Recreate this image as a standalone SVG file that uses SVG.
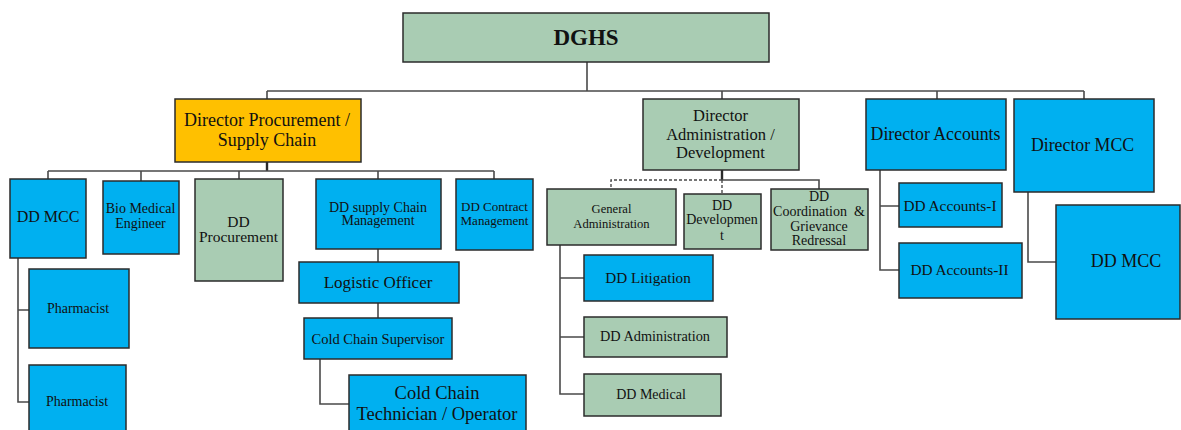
<svg xmlns="http://www.w3.org/2000/svg" width="1181" height="430" viewBox="0 0 1181 430">
<style>
.n{stroke:#2b2b2b;stroke-width:1.5}
.b{fill:#00B0F0}.g{fill:#A9CCB3}.o{fill:#FFC000}
text{font-family:"Liberation Serif","Times New Roman",serif;fill:#111;text-anchor:middle}
.c{fill:none;stroke:#4a4a4a;stroke-width:1.6}
.k{fill:none;stroke:#2a2a2a;stroke-width:2.4}
.d{fill:none;stroke:#4a4a4a;stroke-width:1.4;stroke-dasharray:3 2}
</style>
<rect x="0" y="0" width="1181" height="430" fill="#fff"/>
<g id="connectors">
<path class="c" d="M587 62V91M267 91H1084M267 91V99M722 91V99M937 91V99M1084 91V99"/>
<path class="k" d="M267 162V171"/>
<path class="c" d="M48 171H494M48 171V179M141 171V181M239 171V179M378 171V179M494 171V179"/>
<path class="c" d="M378 249V262M378 303V318M320 359V404H349"/>
<path class="c" d="M18 258V402H29M18 310H29"/>
<path class="k" d="M722 170V180"/>
<path class="c" d="M722 180H819V189"/>
<path class="d" d="M722 180H611V189M722 180V194"/>
<path class="c" d="M560 245V394H584M560 278H584M560 337H584"/>
<path class="c" d="M880 170V270H899M880 206H899"/>
<path class="c" d="M1028 192V262H1056"/>
</g>
<g id="dghs"><rect class="n g" x="403" y="13" width="366" height="49"/><text x="586" y="45" font-size="23" font-weight="bold">DGHS</text></g>
<g id="dir-procurement"><rect class="n o" x="175" y="99" width="186" height="63"/><text font-size="18"><tspan x="267" y="126">Director Procurement /</tspan><tspan x="267" y="146">Supply Chain</tspan></text></g>
<g id="dir-admin"><rect class="n g" x="643" y="99" width="156" height="71"/><text font-size="16.5"><tspan x="720.5" y="121">Director</tspan><tspan x="720.5" y="139.5">Administration /</tspan><tspan x="720.5" y="158">Development</tspan></text></g>
<g id="dir-accounts"><rect class="n b" x="866" y="99" width="140" height="71"/><text x="935.5" y="139.5" font-size="17.8">Director Accounts</text></g>
<g id="dir-mcc"><rect class="n b" x="1014" y="99" width="140" height="93"/><text x="1082.5" y="151" font-size="17.8">Director MCC</text></g>
<g id="dd-mcc-left"><rect class="n b" x="10" y="179" width="76" height="79"/><text x="48" y="222" font-size="16">DD MCC</text></g>
<g id="bio-medical"><rect class="n b" x="103" y="181" width="76" height="73"/><text font-size="14"><tspan x="140.5" y="213">Bio Medical</tspan><tspan x="140.5" y="228">Engineer</tspan></text></g>
<g id="dd-procurement"><rect class="n g" x="195" y="179" width="88" height="102"/><text font-size="15.5"><tspan x="238.5" y="226.5">DD</tspan><tspan x="238.5" y="242">Procurement</tspan></text></g>
<g id="dd-supply"><rect class="n b" x="316" y="179" width="125" height="70"/><text font-size="14"><tspan x="378" y="211.5">DD supply Chain</tspan><tspan x="378" y="225">Management</tspan></text></g>
<g id="dd-contract"><rect class="n b" x="456" y="179" width="77" height="71"/><text font-size="13"><tspan x="494.5" y="210.5">DD Contract</tspan><tspan x="494.5" y="225">Management</tspan></text></g>
<g id="logistic"><rect class="n b" x="299" y="262" width="160" height="41"/><text x="378" y="287.5" font-size="17">Logistic Officer</text></g>
<g id="cc-supervisor"><rect class="n b" x="304" y="318" width="148" height="41"/><text x="378" y="343.5" font-size="14.5">Cold Chain Supervisor</text></g>
<g id="cc-technician"><rect class="n b" x="349" y="375" width="177" height="70"/><text font-size="18.5"><tspan x="437" y="399">Cold Chain</tspan><tspan x="437" y="419.5">Technician / Operator</tspan></text></g>
<g id="pharmacist-1"><rect class="n b" x="29" y="269" width="100" height="79"/><text x="78" y="313" font-size="14">Pharmacist</text></g>
<g id="pharmacist-2"><rect class="n b" x="29" y="365" width="97" height="80"/><text x="77" y="405.5" font-size="14">Pharmacist</text></g>
<g id="general-admin"><rect class="n g" x="547" y="189" width="129" height="56"/><text font-size="12.6"><tspan x="611.5" y="213">General</tspan><tspan x="611.5" y="227.5">Administration</tspan></text></g>
<g id="dd-development"><rect class="n g" x="684" y="194" width="77" height="55"/><text font-size="14"><tspan x="722" y="209.5">DD</tspan><tspan x="722" y="224">Developmen</tspan><tspan x="722" y="240">t</tspan></text></g>
<g id="dd-coordination"><rect class="n g" x="771" y="189" width="97" height="61"/><text font-size="14" xml:space="preserve"><tspan x="819" y="201">DD</tspan><tspan x="819" y="215.5">Coordination  &amp;</tspan><tspan x="819" y="231">Grievance</tspan><tspan x="819" y="245">Redressal</tspan></text></g>
<g id="dd-litigation"><rect class="n b" x="584" y="255" width="129" height="46"/><text x="648" y="283" font-size="15.2">DD Litigation</text></g>
<g id="dd-administration"><rect class="n g" x="584" y="317" width="143" height="40"/><text x="655" y="341" font-size="14.3">DD Administration</text></g>
<g id="dd-medical"><rect class="n g" x="584" y="374" width="137" height="42"/><text x="651" y="399" font-size="14">DD Medical</text></g>
<g id="dd-accounts-1"><rect class="n b" x="899" y="183" width="103" height="44"/><text x="950" y="211" font-size="15.3">DD Accounts-I</text></g>
<g id="dd-accounts-2"><rect class="n b" x="899" y="243" width="123" height="55"/><text x="959.5" y="274.5" font-size="15.3">DD Accounts-II</text></g>
<g id="dd-mcc-right"><rect class="n b" x="1056" y="205" width="124" height="114"/><text x="1126" y="267" font-size="18">DD MCC</text></g>
</svg>
